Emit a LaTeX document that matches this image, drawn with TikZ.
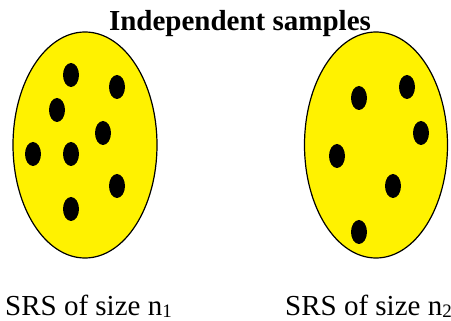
\documentclass[tikz,border=0pt]{standalone}
\usepackage{fontspec}
\setmainfont{Liberation Serif}
\newcommand{\mysub}[1]{\raisebox{-2.5pt}{\fontsize{19}{19}\selectfont #1}}
\begin{document}
\begin{tikzpicture}[x=1pt,y=-1pt,
  pool/.style={draw=black,line width=1.2pt,fill=yellow},
  dot/.style={fill=black},
  lbl/.style={inner sep=0pt,font=\fontsize{29}{34}\selectfont}]
\useasboundingbox (0,0) rectangle (451,321);
\filldraw[pool] (85,145) ellipse [x radius=72,y radius=113];
\filldraw[pool] (376,145) ellipse [x radius=71.5,y radius=113];
\foreach \p in {(71,75),(117,87),(57,110),(103,133),(33,154),(71,154),(117,186),(71,209),
                (359,98),(407,87),(421,133),(337,156),(393,186),(359,232)}
  \fill[dot] \p ellipse [x radius=8,y radius=12];
\node[lbl,anchor=base,font=\fontsize{29}{34}\selectfont\bfseries] (title) at (240,31) {Independent samples};
\node[lbl,anchor=base west] (l1) at (5,315.5) {SRS of size n\mysub{1}};
\node[lbl,anchor=base west] (l2) at (285,315.5) {SRS of size n\mysub{2}};
\end{tikzpicture}
\end{document}
